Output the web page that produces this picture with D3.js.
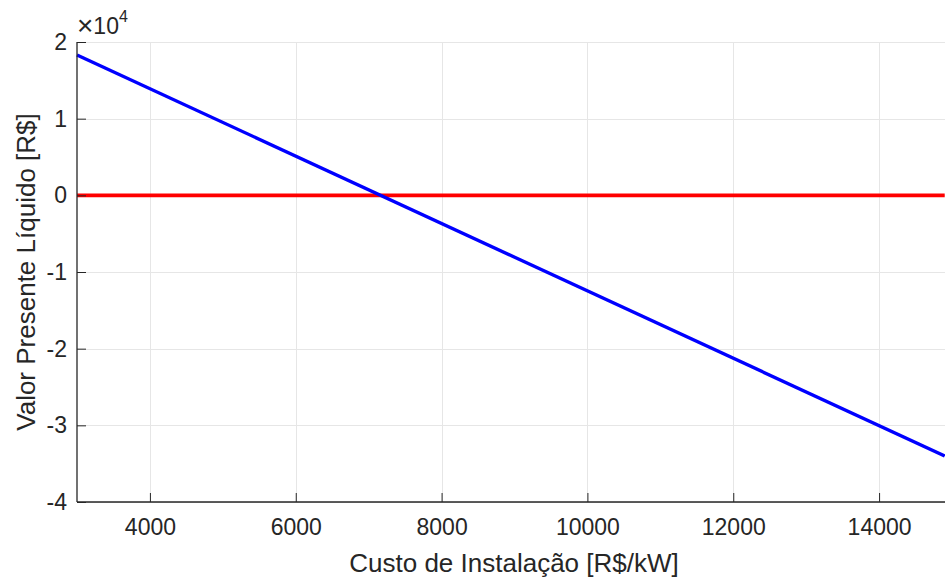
<!DOCTYPE html>
<html>
<head>
<meta charset="utf-8">
<script src="https://cdn.jsdelivr.net/npm/d3@7"></script>
<style>
  body { margin: 0; background: white; }
  svg { display: block; font-family: "Liberation Sans", Arial, sans-serif; }
</style>
</head>
<body>
<div id="chart"></div>
<script>
// installation cost [R$/kW] and NPV [R$]
const custo = [3000, 14900];
const vpl = [18300, -34000];
const zeroLine = [0, 0];
const xTicks = [4000, 6000, 8000, 10000, 12000, 14000];
const yTicks = [-40000, -30000, -20000, -10000, 0, 10000, 20000];

const width = 945, height = 578;
const margin = {top: 42, right: 0, bottom: 76, left: 77};
const ink = "#262626";

const svg = d3.select("#chart").append("svg")
  .attr("width", width)
  .attr("height", height);

const x = d3.scaleLinear()
  .domain([3000, 14904])
  .range([margin.left, width - margin.right]);

const y = d3.scaleLinear()
  .domain([-40000, 20000])
  .range([height - margin.bottom, margin.top]);

// grid
const grid = svg.append("g").attr("stroke", "#e6e6e6").attr("stroke-width", 1);
grid.selectAll(".gx").data(xTicks).enter().append("line")
  .attr("x1", d => Math.round(x(d)) + 0.5).attr("x2", d => Math.round(x(d)) + 0.5)
  .attr("y1", y(-40000)).attr("y2", y(20000));
grid.selectAll(".gy").data(yTicks).enter().append("line")
  .attr("x1", x(3000)).attr("x2", width)
  .attr("y1", d => Math.round(y(d)) + 0.5).attr("y2", d => Math.round(y(d)) + 0.5);

// lines
const line = d3.line().x((d, i) => x(custo[i])).y(d => y(d));

svg.append("path")
  .datum(zeroLine)
  .attr("fill", "none")
  .attr("stroke", "#ff0000")
  .attr("stroke-width", 3.6)
  .attr("d", line);

svg.append("path")
  .datum(vpl)
  .attr("fill", "none")
  .attr("stroke", "#0000ff")
  .attr("stroke-width", 3.4)
  .attr("d", line);

// axes
const xAxis = svg.append("g")
  .attr("transform", `translate(0,${y(-40000)})`)
  .call(d3.axisBottom(x).tickValues(xTicks).tickSize(-9).tickPadding(17).tickFormat(d3.format("d")));
xAxis.select(".domain").attr("stroke", ink).attr("stroke-width", 1.3).attr("d", `M${x(3000)},0H${width}`);

const yAxis = svg.append("g")
  .attr("transform", `translate(${x(3000)},0)`)
  .call(d3.axisLeft(y).tickValues(yTicks).tickSize(-9).tickPadding(10).tickFormat(d => d / 10000));
yAxis.select(".domain").attr("stroke", ink).attr("stroke-width", 1.3).attr("d", `M0,${y(-40000)}V${y(20000)}`);

svg.selectAll(".tick line").attr("stroke", ink);
svg.selectAll(".tick text")
  .attr("fill", ink)
  .style("font-size", "23px")
  .style("font-family", "'Liberation Sans', Arial, sans-serif");

// exponent
const expo = svg.append("text")
  .attr("x", 77).attr("y", 35)
  .attr("fill", ink)
  .style("font-size", "23px");
expo.append("tspan").style("font-size", "28px").text("\u00d7");
expo.append("tspan").attr("dy", -1).text("10");
expo.append("tspan").attr("dy", -12).style("font-size", "16px").text("4");

// labels
svg.append("text")
  .attr("x", (x(3000) + width) / 2 + 3)
  .attr("y", 572)
  .attr("text-anchor", "middle")
  .attr("fill", ink)
  .style("font-size", "26px")
  .text("Custo de Instalação [R$/kW]");

svg.append("text")
  .attr("transform", `translate(35,${(y(-40000) + y(20000)) / 2}) rotate(-90)`)
  .attr("text-anchor", "middle")
  .attr("fill", ink)
  .style("font-size", "26px")
  .text("Valor Presente Líquido [R$]");
</script>
</body>
</html>
